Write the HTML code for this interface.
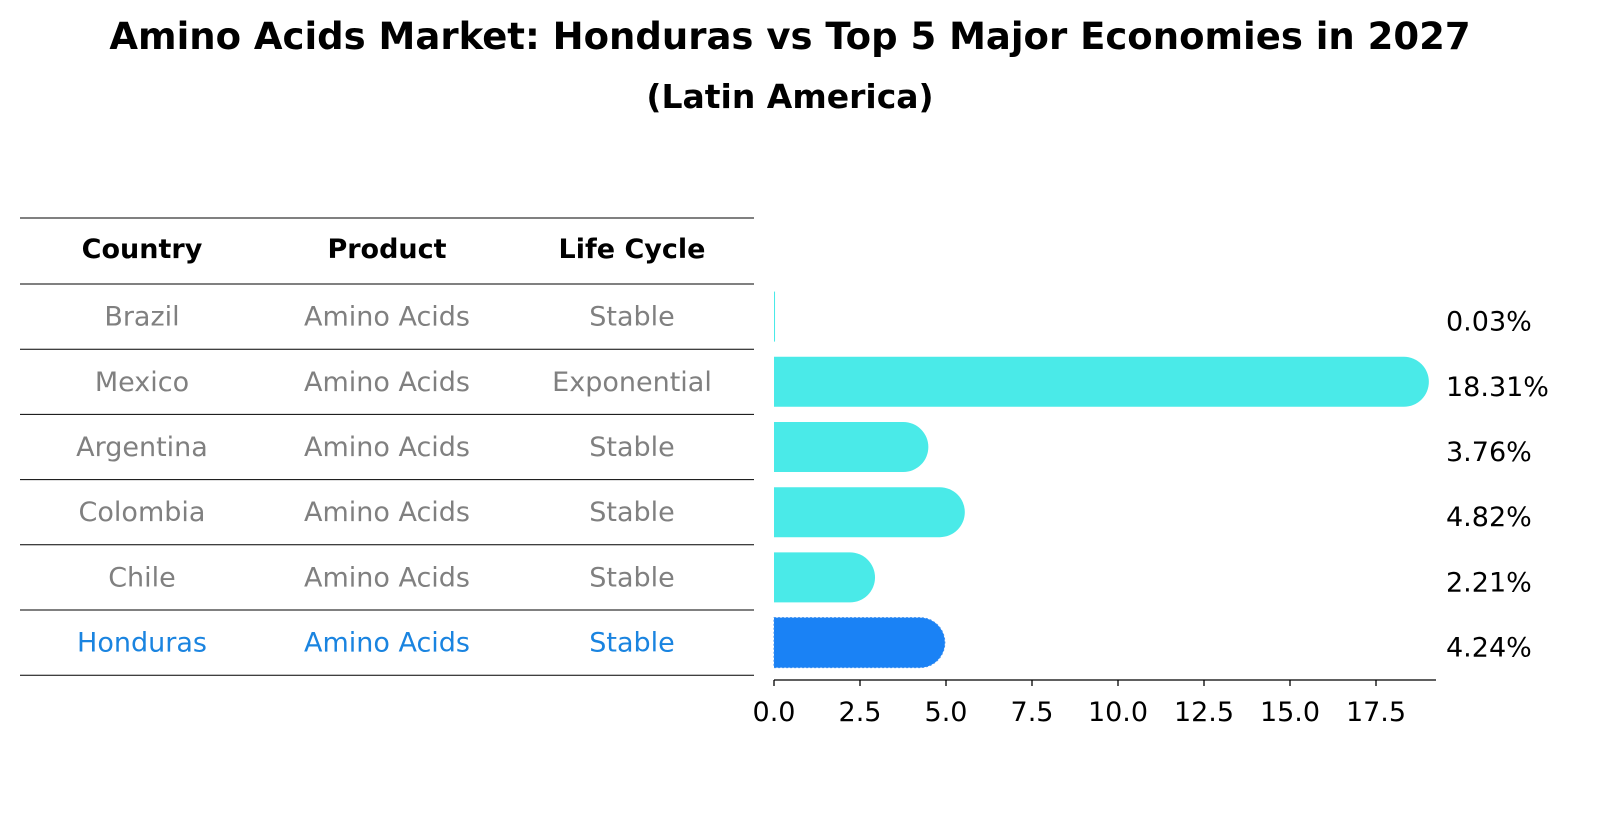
<!DOCTYPE html>
<html><head><meta charset="utf-8"><style>
body{margin:0;background:#fff}
svg text{font-family:"DejaVu Sans","Liberation Sans",sans-serif}
</style></head><body>
<svg id="c" width="1604" height="823" viewBox="0 0 1604 823" xmlns="http://www.w3.org/2000/svg">
<text x="790" y="49" text-anchor="middle" font-size="37" font-weight="bold">Amino Acids Market: Honduras vs Top 5 Major Economies in 2027</text>
<text x="790" y="108" text-anchor="middle" font-size="33" font-weight="bold">(Latin America)</text>
<g id="table"></g>
<g id="bars"></g>
</svg>
<script>
const countries=["Brazil","Mexico","Argentina","Colombia","Chile","Honduras"];
const products=["Amino Acids","Amino Acids","Amino Acids","Amino Acids","Amino Acids","Amino Acids"];
const lifeCycles=["Stable","Exponential","Stable","Stable","Stable","Stable"];
const values=[0.03,18.31,3.76,4.82,2.21,4.24];
const tickLabels=["0.0","2.5","5.0","7.5","10.0","12.5","15.0","17.5"];
const tickValues=[0,2.5,5,7.5,10,12.5,15,17.5];
const NS="http://www.w3.org/2000/svg";
const x0=774,pxPer=34.4;
const xs=v=>x0+v*pxPer;
const rowTop=284,rowH=65.2;
const ys=i=>rowTop+rowH*i+rowH/2;
function mk(tag,attrs,parent){const e=document.createElementNS(NS,tag);for(const k in attrs)e.setAttribute(k,attrs[k]);parent.appendChild(e);return e;}
const tbl=document.getElementById('table');
const cols=[142,387,632];
const lineYs=[218,284];
for(let i=1;i<=countries.length;i++)lineYs.push(rowTop+rowH*i);
lineYs.forEach(y=>{const l=mk('line',{x1:20,x2:754,y1:y,y2:y,stroke:'#000','stroke-width':1},tbl);

});
["Country","Product","Life Cycle"].forEach((h,j)=>{const t=mk('text',{x:cols[j],y:258,'text-anchor':'middle','font-size':27,'font-weight':'bold'},tbl);t.textContent=h;

});
countries.forEach((c,i)=>{
 const col=c==="Honduras"?'#1a84e0':'#808080';
 [c,products[i],lifeCycles[i]].forEach((v,j)=>{const t=mk('text',{x:cols[j],y:ys(i)+9,'text-anchor':'middle','font-size':27,fill:col},tbl);t.textContent=v;
 
 });
});
const bars=document.getElementById('bars');
const bh=50,r=25;
values.forEach((v,i)=>{
 const hl=countries[i]==="Honduras";
 const xe=xs(v),yt=ys(i)-bh/2;
 let d;
 if(v<0.5){d=`M${x0},${yt}h${Math.max(xe-x0,1)}v${bh}h${-Math.max(xe-x0,1)}Z`;}
 else d=`M${x0},${yt}H${xe}A${r},${r} 0 0 1 ${xe},${yt+bh}H${x0}Z`;
 const p=mk('path',{d:d,fill:hl?'#1a82f5':'#4aeae8'},bars);
 if(hl){p.setAttribute('stroke','#3a8ef0');p.setAttribute('stroke-dasharray','2,2');}
 
 
 const t=mk('text',{x:1446,y:ys(i)+14,'font-size':27},bars);t.textContent=v.toFixed(2)+'%';
 
 
});
const ax=mk('line',{x1:x0,x2:1436,y1:680,y2:680,stroke:'#000','stroke-width':1.3},bars);


tickValues.forEach((v,k)=>{
 const tk=mk('line',{x1:xs(v),x2:xs(v),y1:680,y2:686,stroke:'#000','stroke-width':1.3},bars);
 
 
 const t=mk('text',{x:xs(v),y:721,'text-anchor':'middle','font-size':27},bars);t.textContent=tickLabels[k];
 
 
});
</script>
</body></html>
